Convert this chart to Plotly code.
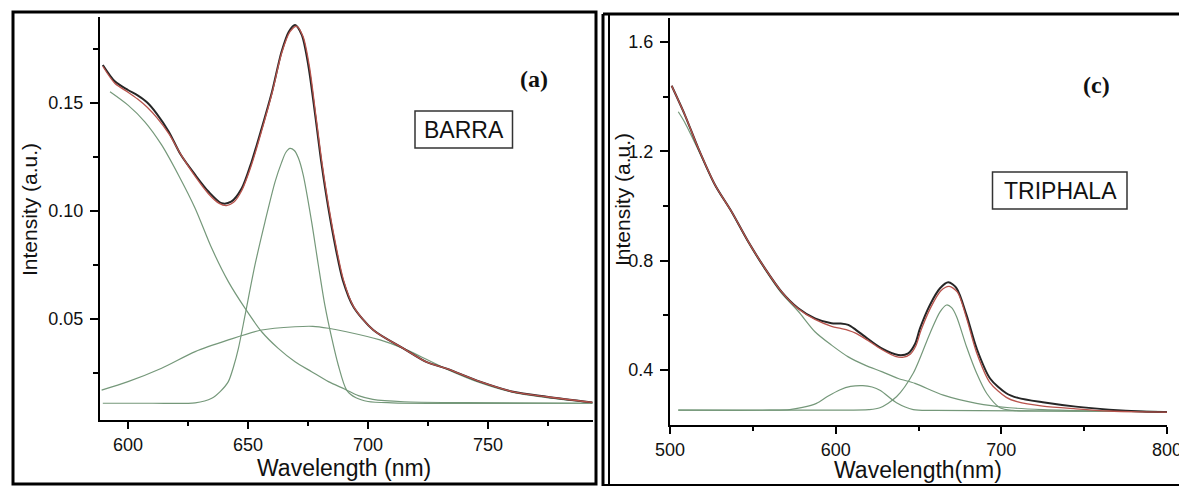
import plotly.graph_objects as go

# ---------------- BARRA spectrum (panel a) ----------------
barra_total_x = [589.5, 594.6, 600, 604, 608, 612, 617, 622, 628, 633.5, 639, 643, 647.4, 651.5,
                 655.7, 660, 664, 667, 669.6, 672.4, 675.1, 678, 680.7, 683.5, 686.5, 689.5, 693.9,
                 702.2, 714.7, 724.5, 732.8, 746.7, 760.5, 774.5, 793.5]
barra_total_y = [0.1676, 0.1599, 0.156, 0.1535, 0.1502, 0.1450, 0.1367, 0.126, 0.1167, 0.109,
                 0.1036, 0.1043, 0.1105, 0.1228, 0.1383, 0.1552, 0.1738, 0.183, 0.1861, 0.1815,
                 0.1676, 0.1444, 0.1213, 0.1012, 0.083, 0.068, 0.0557, 0.0449, 0.0364, 0.0300,
                 0.0270, 0.0210, 0.0163, 0.0140, 0.0114]

barra_fit_x = [589.5, 594.6, 600, 604, 608, 612, 617, 622, 628, 633.5, 638, 641, 644, 647.4, 651.5,
               655.7, 660, 664, 667.5, 670.3, 673, 675.6, 678.3, 681, 683.8, 686.8, 689.8, 694,
               702.2, 714.7, 724.5, 732.8, 746.7, 760.5, 774.5, 793.5]
barra_fit_y = [0.1670, 0.1590, 0.1550, 0.1518, 0.1480, 0.1432, 0.1358, 0.1262, 0.1160, 0.1080,
               0.1035, 0.1025, 0.1040, 0.1095, 0.1215, 0.1372, 0.1545, 0.1730, 0.1830, 0.1855,
               0.1805, 0.1668, 0.1440, 0.1210, 0.1010, 0.0830, 0.0680, 0.0557, 0.0449, 0.0364,
               0.0300, 0.0270, 0.0210, 0.0163, 0.0140, 0.0114]

barra_decay_x = [592.5, 600, 607, 614, 621, 628, 634.9, 641.8, 648.8, 655.7, 662.6, 669.6, 676.5,
                 683.5, 690.4, 696, 702, 715, 740, 793.5]
barra_decay_y = [0.1552, 0.149, 0.1413, 0.1306, 0.1167, 0.1012, 0.0827, 0.0673, 0.0549, 0.0441,
                 0.0364, 0.0302, 0.0256, 0.021, 0.0175, 0.0145, 0.0128, 0.0117, 0.0113, 0.0110]

barra_peak_x = [589.5, 610, 628, 634.9, 638.5, 641.8, 644, 646, 648.8, 652.9, 657.1, 661.3, 664,
                665.8, 667.5, 669.3, 671, 673, 676.5, 679.3, 682, 684.9, 687.6, 691.1, 695, 700,
                710, 793.5]
barra_peak_y = [0.011, 0.011, 0.0112, 0.0133, 0.0165, 0.021, 0.028, 0.0364, 0.0519, 0.075, 0.0951,
                0.1136, 0.1225, 0.1272, 0.129, 0.128, 0.1245, 0.1167, 0.0951, 0.075, 0.0565,
                0.0411, 0.0287, 0.0171, 0.0135, 0.0118, 0.0112, 0.011]

barra_broad_x = [589, 600, 614, 628, 641.8, 655.7, 669.6, 677, 683.5, 691, 705, 714.7, 732.8,
                 746.7, 760.5, 774.5, 793.5]
barra_broad_y = [0.0171, 0.021, 0.0272, 0.0349, 0.0403, 0.0449, 0.0464, 0.0466, 0.0457, 0.0441,
                 0.0403, 0.0364, 0.0268, 0.0205, 0.016, 0.0136, 0.0113]

# ---------------- TRIPHALA spectrum (panel c) ----------------
tri_total_x = [501, 509, 517.1, 527.2, 537.2, 547.3, 557.3, 567.4, 577.4, 587.5, 597.5, 603, 607.6,
               612, 617.7, 627.8, 637.8, 643.8, 647.9, 650.9, 656.9, 663, 668, 673, 679, 685.1,
               693.2, 703, 710, 725, 745, 765, 785, 800]
tri_total_y = [1.44, 1.333, 1.211, 1.077, 0.979, 0.869, 0.772, 0.686, 0.626, 0.589, 0.571, 0.570,
               0.565, 0.548, 0.522, 0.479, 0.455, 0.461, 0.495, 0.552, 0.638, 0.699, 0.721, 0.699,
               0.601, 0.479, 0.369, 0.315, 0.298, 0.282, 0.266, 0.255, 0.248, 0.246]

tri_fit_x = [501, 509, 517.1, 527.2, 537.2, 547.3, 557.3, 567.4, 577.4, 587.5, 597.5, 603, 607.6,
             612, 617.7, 627.8, 636, 641, 645, 648.5, 651.5, 657.5, 663.5, 668.5, 673.5, 679, 685,
             693, 703, 710, 725, 745, 765, 785, 800]
tri_fit_y = [1.44, 1.333, 1.211, 1.077, 0.979, 0.869, 0.772, 0.686, 0.624, 0.585, 0.560, 0.552,
             0.545, 0.535, 0.515, 0.475, 0.450, 0.447, 0.458, 0.490, 0.545, 0.630, 0.690, 0.706,
             0.685, 0.590, 0.465, 0.355, 0.300, 0.283, 0.268, 0.258, 0.250, 0.247, 0.246]

tri_decay_x = [505, 509, 517.1, 527.2, 537.2, 547.3, 557.3, 567.4, 577.4, 587.5, 597.5, 607.6,
               617.7, 627.8, 637.8, 647.9, 665, 685, 705, 725, 760, 800]
tri_decay_y = [1.345, 1.305, 1.205, 1.075, 0.977, 0.866, 0.768, 0.680, 0.615, 0.540, 0.491, 0.448,
               0.418, 0.394, 0.369, 0.351, 0.308, 0.278, 0.262, 0.255, 0.250, 0.248]

tri_small_x = [505, 560, 572.3, 580, 588.4, 595, 602.4, 609, 616.4, 622, 627, 636.7, 646.8, 660, 800]
tri_small_y = [0.253, 0.253, 0.255, 0.263, 0.278, 0.303, 0.327, 0.340, 0.343, 0.338, 0.325, 0.280,
               0.255, 0.252, 0.248]

tri_peak_x = [505, 600, 620, 626.7, 636.7, 646.8, 656.9, 663, 667, 670, 673, 679, 685.1, 691.1,
              699.2, 707, 730, 800]
tri_peak_y = [0.253, 0.253, 0.255, 0.262, 0.302, 0.388, 0.534, 0.613, 0.638, 0.628, 0.595, 0.485,
              0.388, 0.315, 0.262, 0.252, 0.250, 0.248]

# tick values
barra_xticks = [600, 650, 700, 750]
barra_xminor = [625, 675, 725, 775]
barra_yticks = [0.05, 0.10, 0.15]
barra_ylabels = ["0.05", "0.10", "0.15"]
barra_yminor = [0.025, 0.075, 0.125, 0.175]
tri_xticks = [500, 600, 700, 800]
tri_xminor = [550, 650, 750]
tri_yticks = [0.4, 0.8, 1.2, 1.6]
tri_ylabels = ["0.4", "0.8", "1.2", "1.6"]
tri_yminor = [0.6, 1.0, 1.4]

W, H = 1179, 487
BLACK = "#262626"
RED = "#b8534c"
GREEN = "#75987a"
SANS = "Liberation Sans, Arial, sans-serif"
SERIF = "Liberation Serif, Times New Roman, serif"


def px(x):
    return x / W


def py(y):
    return 1 - y / H


fig = go.Figure()


def add_line(x, y, color, width, xa, ya):
    fig.add_trace(go.Scatter(x=x, y=y, mode="lines", xaxis=xa, yaxis=ya,
                             line=dict(color=color, width=width, shape="spline", smoothing=0.8),
                             hoverinfo="skip"))


for xs, ys in [(barra_decay_x, barra_decay_y), (barra_peak_x, barra_peak_y),
               (barra_broad_x, barra_broad_y)]:
    add_line(xs, ys, GREEN, 1.2, "x", "y")
add_line(barra_total_x, barra_total_y, BLACK, 2.0, "x", "y")
add_line(barra_fit_x, barra_fit_y, RED, 1.3, "x", "y")

for xs, ys in [(tri_decay_x, tri_decay_y), (tri_small_x, tri_small_y), (tri_peak_x, tri_peak_y)]:
    add_line(xs, ys, GREEN, 1.2, "x2", "y2")
add_line(tri_total_x, tri_total_y, BLACK, 2.0, "x2", "y2")
add_line(tri_fit_x, tri_fit_y, RED, 1.3, "x2", "y2")

tickfont = dict(family=SANS, size=18, color="#111")
common = dict(showline=True, linecolor="black", linewidth=2, ticks="outside", tickwidth=2,
              tickcolor="black", showgrid=False, zeroline=False, tickfont=tickfont,
              automargin=False, ticklabeloverflow="allow")

fig.update_layout(
    width=W, height=H, margin=dict(l=0, r=0, t=0, b=0, pad=0, autoexpand=False),
    paper_bgcolor="white", plot_bgcolor="white", showlegend=False,
    xaxis=dict(domain=[px(100), px(593)], range=[588.33, 793.75], anchor="y",
               tickvals=barra_xticks, ticklen=7, ticklabelstandoff=0,
               minor=dict(tickvals=barra_xminor, ticklen=4, tickwidth=1.5, ticks="outside",
                          tickcolor="black"), **common),
    yaxis=dict(domain=[py(420), py(17)], range=[0.00324, 0.1898], anchor="x",
               tickvals=barra_yticks, ticktext=barra_ylabels, ticklen=8, ticklabelstandoff=3,
               minor=dict(tickvals=barra_yminor, ticklen=5, tickwidth=1.5, ticks="outside",
                          tickcolor="black"), **common),
    xaxis2=dict(domain=[px(670), px(1167)], range=[500, 800], anchor="y2",
                tickvals=tri_xticks, ticklen=7, ticklabelstandoff=0,
                minor=dict(tickvals=tri_xminor, ticklen=4, tickwidth=1.5, ticks="outside",
                           tickcolor="black"), **common),
    yaxis2=dict(domain=[py(425), py(18)], range=[0.1988, 1.688], anchor="x2",
                tickvals=tri_yticks, ticktext=tri_ylabels, ticklen=8, ticklabelstandoff=3,
                minor=dict(tickvals=tri_yminor, ticklen=5, tickwidth=1.5, ticks="outside",
                           tickcolor="black"), **common),
)

# panel frames
shapes = [
    dict(type="rect", xref="paper", yref="paper", x0=px(13), x1=px(596), y0=py(484), y1=py(12),
         line=dict(color="black", width=3)),
    dict(type="line", xref="paper", yref="paper", x0=px(603), x1=px(603), y0=py(486), y1=py(14),
         line=dict(color="black", width=3)),
    dict(type="line", xref="paper", yref="paper", x0=px(609), x1=px(609), y0=py(486), y1=py(14),
         line=dict(color="black", width=2)),
    dict(type="line", xref="paper", yref="paper", x0=px(603), x1=px(1179), y0=py(14), y1=py(14),
         line=dict(color="black", width=3)),
    dict(type="line", xref="paper", yref="paper", x0=px(603), x1=px(1179), y0=py(485), y1=py(485),
         line=dict(color="black", width=2)),
    # sample name boxes
    dict(type="rect", xref="paper", yref="paper", x0=px(415), x1=px(512.5), y0=py(148), y1=py(111),
         line=dict(color="#333", width=1.5)),
    dict(type="rect", xref="paper", yref="paper", x0=px(992.5), x1=px(1127), y0=py(209), y1=py(172),
         line=dict(color="#333", width=1.5)),
]
fig.update_layout(shapes=shapes)


def label(text, x, y, size, family=SANS, angle=0, color="#111"):
    fig.add_annotation(text=text, xref="paper", yref="paper", x=px(x), y=py(y),
                       xanchor="center", yanchor="middle", showarrow=False, textangle=angle,
                       font=dict(family=family, size=size, color=color))


label("Intensity (a.u.)", 29, 210, 21, angle=-90)
label("Intensity (a.u.)", 622, 200, 21, angle=-90)
label("Wavelength (nm)", 344, 468, 23)
label("Wavelength(nm)", 918, 470, 23)
label("<b>(a)</b>", 534, 79, 24, family=SERIF)
label("<b>(c)</b>", 1096, 85, 24, family=SERIF)
label("BARRA", 464, 130, 23)
label("TRIPHALA", 1060, 191, 23)

fig.write_html("out.html")
